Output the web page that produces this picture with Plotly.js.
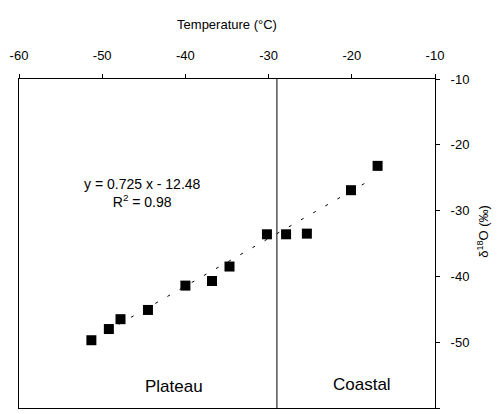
<!DOCTYPE html>
<html>
<head>
<meta charset="utf-8">
<script src="https://cdn.plot.ly/plotly-3.0.1.min.js"></script>
<style>html,body{margin:0;padding:0;background:#fff;}#chart{width:504px;height:414px;}</style>
</head>
<body>
<div id="chart"></div>
<script>
// Data
var temperature = [-51.3, -49.2, -47.8, -44.5, -40.0, -36.8, -34.7, -30.2, -27.9, -25.4, -20.1, -16.9];
var delta18O    = [-49.7, -48.0, -46.5, -45.1, -41.4, -40.7, -38.5, -33.6, -33.6, -33.5, -26.9, -23.2];
var fitSlope = 0.725;
var fitIntercept = -12.48;
var fitX = [-48, -18];
var fitY = fitX.map(function (x) { return fitSlope * x + fitIntercept; });
var dividerX = -29;
var xTicks = [-60, -50, -40, -30, -20, -10];
var yTicks = [-60, -50, -40, -30, -20, -10];

var font = "Liberation Sans, Arial, Helvetica, sans-serif";

var traces = [
  {
    x: fitX, y: fitY, mode: "lines", type: "scatter",
    line: {color: "#000", width: 1, dash: "3px,11px"},
    hoverinfo: "skip", showlegend: false
  },
  {
    x: temperature, y: delta18O, mode: "markers", type: "scatter",
    marker: {symbol: "square", size: 10, color: "#000"},
    showlegend: false
  }
];

var layout = {
  width: 504, height: 414,
  margin: {l: 19, r: 69, t: 79, b: 6},
  paper_bgcolor: "#fff", plot_bgcolor: "#fff",
  font: {family: font, color: "#000", size: 13},
  xaxis: {
    range: [-60, -10], side: "top",
    tickvals: xTicks, ticktext: xTicks.map(String),
    ticks: "outside", ticklen: 4, tickcolor: "#000", tickwidth: 1,
    ticklabelstandoff: 9,
    showgrid: false, zeroline: false,
    showline: true, linecolor: "#000", linewidth: 1, mirror: true,
    tickfont: {size: 13},
    title: {text: "Temperature (°C)", font: {size: 13}, standoff: 15}
  },
  yaxis: {
    range: [-60, -10], side: "right",
    tickvals: yTicks, ticktext: yTicks.map(String),
    ticks: "outside", ticklen: 4, tickcolor: "#000", tickwidth: 1,
    ticklabelstandoff: 8,
    showgrid: false, zeroline: false,
    showline: true, linecolor: "#000", linewidth: 1, mirror: true,
    tickfont: {size: 13}
  },
  shapes: [
    {type: "line", xref: "x", yref: "paper", x0: dividerX, x1: dividerX, y0: 0, y1: 1,
     line: {color: "#000", width: 1}}
  ],
  annotations: [
    {xref: "paper", yref: "paper", x: 1.139, y: 0.538, text: "δ<sup>18</sup>O (‰)",
     textangle: -90, showarrow: false, font: {size: 13}},
    {xref: "x", yref: "y", x: -45.2, y: -27.3, text: "y = 0.725 x - 12.48<br>R<sup>2</sup> = 0.98",
     showarrow: false, font: {size: 14}, align: "center"},
    {xref: "x", yref: "y", x: -41.4, y: -56.8, text: "Plateau", showarrow: false, font: {size: 17}},
    {xref: "x", yref: "y", x: -18.8, y: -56.4, text: "Coastal", showarrow: false, font: {size: 17}}
  ]
};

Plotly.newPlot("chart", traces, layout, {displayModeBar: false, staticPlot: true});
</script>
</body>
</html>
